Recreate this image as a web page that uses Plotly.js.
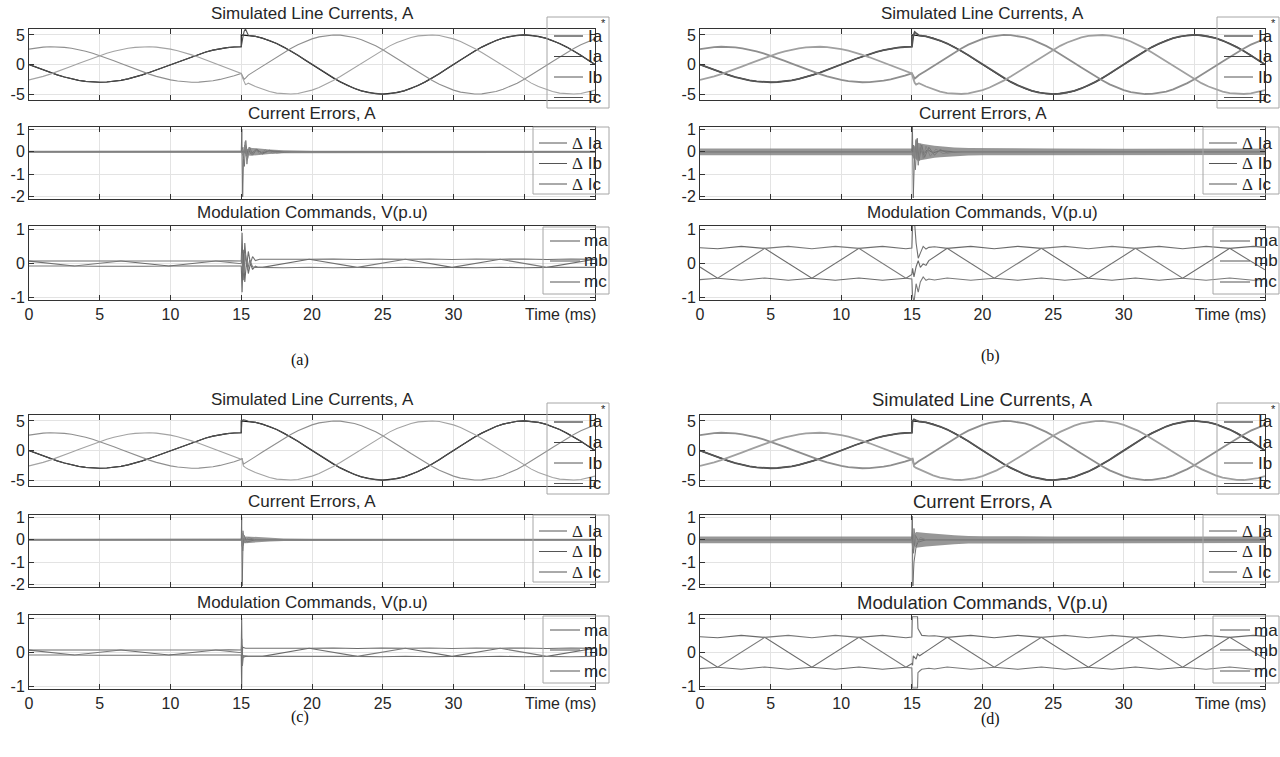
<!DOCTYPE html>
<html><head><meta charset="utf-8">
<script src="https://cdn.plot.ly/plotly-3.0.1.min.js"></script>
<style>html,body{margin:0;padding:0;background:#fff}#chart{width:1280px;height:757px}</style>
</head><body><div id="chart"></div><script>
// ---------------- DATA ----------------
const xTickVals = [0,5,10,15,20,25,30,35];
const xTickText = ['0','5','10','15','20','25','30',''];
const xAxisLabel = 'Time (ms)';
const curTickVals = [-5,0,5];  const curTickText = ['-5','0','5'];
const errTickVals = [-2,-1,0,1]; const errTickText = ['-2','-1','0','1'];
const modTickVals = [-1,0,1];  const modTickText = ['-1','0','1'];

// line currents before the step (0..15 ms, 0.5 ms spacing)
const tPre = [0,0.5,1,1.5,2,2.5,3,3.5,4,4.5,5,5.5,6,6.5,7,7.5,8,8.5,9,9.5,10,10.5,11,11.5,12,12.5,13,13.5,14,14.5,15];
const iaPre = [0,-0.47,-0.93,-1.36,-1.76,-2.12,-2.43,-2.67,-2.85,-2.96,-3.00,-2.96,-2.85,-2.67,-2.43,-2.12,-1.76,-1.36,-0.93,-0.47,0,0.47,0.93,1.36,1.76,2.12,2.43,2.67,2.85,2.96,3.00];
const ibPre = [2.60,2.80,2.93,3.00,2.98,2.90,2.74,2.52,2.23,1.89,1.50,1.08,0.62,0.16,-0.31,-0.78,-1.22,-1.63,-2.01,-2.33,-2.60,-2.80,-2.93,-3.00,-2.98,-2.90,-2.74,-2.52,-2.23,-1.89,-1.50];
const icPre = [-2.60,-2.33,-2.01,-1.63,-1.22,-0.78,-0.31,0.16,0.62,1.08,1.50,1.89,2.23,2.52,2.74,2.90,2.98,3.00,2.93,2.80,2.60,2.33,2.01,1.63,1.22,0.78,0.31,-0.16,-0.62,-1.08,-1.50];
// line currents after the step (15.5..40 ms)
const tPost = [15.5,16,16.5,17,17.5,18,18.5,19,19.5,20,20.5,21,21.5,22,22.5,23,23.5,24,24.5,25,25.5,26,26.5,27,27.5,28,28.5,29,29.5,30,30.5,31,31.5,32,32.5,33,33.5,34,34.5,35,35.5,36,36.5,37,37.5,38,38.5,39,39.5,40];
const iaPost = [4.94,4.76,4.46,4.05,3.54,2.94,2.27,1.55,0.78,0,-0.78,-1.55,-2.27,-2.94,-3.54,-4.05,-4.46,-4.76,-4.94,-5.00,-4.94,-4.76,-4.46,-4.05,-3.54,-2.94,-2.27,-1.55,-0.78,0,0.78,1.55,2.27,2.94,3.54,4.05,4.46,4.76,4.94,5.00,4.94,4.76,4.46,4.05,3.54,2.94,2.27,1.55,0.78,0];
const ibPost = [-1.79,-1.04,-0.26,0.52,1.29,2.03,2.72,3.35,3.89,4.33,4.67,4.89,4.99,4.97,4.83,4.57,4.19,3.72,3.15,2.50,1.79,1.04,0.26,-0.52,-1.29,-2.03,-2.72,-3.35,-3.89,-4.33,-4.67,-4.89,-4.99,-4.97,-4.83,-4.57,-4.19,-3.72,-3.15,-2.50,-1.79,-1.04,-0.26,0.52,1.29,2.03,2.72,3.35,3.89,4.33];
const icPost = [-3.15,-3.72,-4.19,-4.57,-4.83,-4.97,-4.99,-4.89,-4.67,-4.33,-3.89,-3.35,-2.72,-2.03,-1.29,-0.52,0.26,1.04,1.79,2.50,3.15,3.72,4.19,4.57,4.83,4.97,4.99,4.89,4.67,4.33,3.89,3.35,2.72,2.03,1.29,0.52,-0.26,-1.04,-1.79,-2.50,-3.15,-3.72,-4.19,-4.57,-4.83,-4.97,-4.99,-4.89,-4.67,-4.33];
const tRefStep = [15];
const iaRefStep = [5.0];
// measured-current transients (per panel)
const tCurTrA = [15.1,15.2,15.3,15.4]; const iaTrA = [4.4,5.6,6.0,5.4]; const ibTrA = [-2.0,-2.5,-2.3,-2.0]; const icTrA = [-2.3,-3.0,-3.4,-3.3];
const tCurTrB = [15.1,15.2,15.3,15.4]; const iaTrB = [4.8,5.5,5.3,5.1]; const ibTrB = [-1.9,-2.4,-2.2,-1.9]; const icTrB = [-2.4,-3.1,-3.4,-3.3];
const tCurTrC = [15.05,15.15,15.3,15.4]; const iaTrC = [5.1,5.2,5.1,5.0]; const ibTrC = [-1.3,-2.3,-2.1,-1.95]; const icTrC = [-1.3,-2.6,-2.9,-3.05];
const tCurTrD = [15.05,15.15,15.3,15.4]; const iaTrD = [5.0,5.25,5.1,5.0]; const ibTrD = [-1.4,-2.4,-2.1,-1.95]; const icTrD = [-1.4,-2.7,-2.95,-3.05];

// current errors: ripple envelope bands
const bandTA = [0,15,15.2,15.6,16,16.5,17,18,19,20,25,30,35,40];
const bandHiA = [0.04,0.04,0.06,0.18,0.15,0.12,0.10,0.07,0.05,0.045,0.04,0.045,0.045,0.045];
const bandLoA = [-0.04,-0.04,-0.06,-0.18,-0.15,-0.12,-0.10,-0.07,-0.05,-0.045,-0.04,-0.045,-0.045,-0.045];
const bandTB = [0,15,15.1,15.4,15.8,16.2,16.6,17,17.5,18,19,20,25,30,35,40];
const bandHiB = [0.15,0.15,0.20,0.40,0.35,0.30,0.27,0.24,0.21,0.19,0.17,0.16,0.14,0.13,0.14,0.14];
const bandLoB = [-0.15,-0.15,-0.20,-0.40,-0.35,-0.30,-0.27,-0.24,-0.21,-0.19,-0.17,-0.16,-0.14,-0.13,-0.14,-0.14];
const bandTC = [0,15,15.1,15.3,16,17,18,20,22,25,30,40];
const bandHiC = [0.04,0.04,0.06,0.15,0.12,0.08,0.06,0.05,0.045,0.04,0.04,0.04];
const bandLoC = [-0.04,-0.04,-0.06,-0.15,-0.12,-0.08,-0.06,-0.05,-0.045,-0.04,-0.04,-0.04];
const bandTD = [0,15,15.1,15.3,16,17,18,19,20,25,30,35,40];
const bandHiD = [0.15,0.15,0.20,0.35,0.30,0.24,0.20,0.17,0.16,0.15,0.14,0.14,0.14];
const bandLoD = [-0.15,-0.15,-0.20,-0.35,-0.30,-0.24,-0.20,-0.17,-0.16,-0.15,-0.14,-0.14,-0.14];
// current errors: transient lines
const tdIaA = [0,15,15.04,15.1,15.16,15.25,15.35,15.5,15.7,16,16.5,17,18,40]; const dIaA = [0,0,1.0,-2.0,-0.3,0.3,-0.2,0.1,-0.1,0.08,-0.05,0.04,0,0];
const tdIbA = [0,15,15.12,15.22,15.32,15.45,15.6,15.8,16.1,16.5,17,17.5,18.5,40]; const dIbA = [0,0,0.2,-0.65,0.5,-0.3,0.2,-0.15,0.12,-0.1,0.07,-0.05,0,0];
const tdIcA = [0,15,15.15,15.28,15.4,15.55,15.75,16,16.3,16.7,17.2,18,40]; const dIcA = [0,0,-0.2,0.45,-0.55,0.2,-0.15,0.12,-0.1,0.08,-0.05,0,0];
const tdIaB = [0,15,15.04,15.1,15.18,15.3,15.45,15.6,15.8,16.1,16.5,17,18,40]; const dIaB = [0,0,1.15,-2.05,-0.3,0.5,-0.3,0.2,-0.15,0.1,-0.05,0.05,0,0];
const tdIbB = [0,15,15.12,15.25,15.38,15.5,15.7,15.9,16.2,16.6,17,17.5,18.5,40]; const dIbB = [0,0,0.3,-0.8,0.6,-0.4,0.3,-0.25,0.2,-0.15,0.1,-0.05,0,0];
const tdIcB = [0,15,15.15,15.3,15.45,15.6,15.8,16.0,16.3,16.7,17.2,18,40]; const dIcB = [0,0,-0.3,0.55,-0.6,0.35,-0.3,0.25,-0.2,0.12,-0.08,0,0];
const tdIaC = [0,15,15.03,15.07,15.12,15.2,40]; const dIaC = [0,0,1.0,-2.05,-0.3,0,0];
const tdIbC = [0,15,15.05,15.1,15.2,15.4,16,40]; const dIbC = [0,0,0.3,-0.5,0.2,-0.1,0,0];
const tdIcC = [0,15,15.06,15.12,15.25,15.5,16,40]; const dIcC = [0,0,-0.3,0.4,-0.15,0.1,0,0];
const tdIaD = [0,15,15.03,15.07,15.15,15.3,15.5,40]; const dIaD = [0,0,1.05,-2.05,-1.0,-0.3,0,0];
const tdIbD = [0,15,15.05,15.12,15.25,15.5,16,40]; const dIbD = [0,0,0.5,-0.6,0.2,-0.1,0,0];
const tdIcD = [0,15,15.06,15.15,15.3,15.6,16,40]; const dIcD = [0,0,-0.4,0.5,-0.2,0.1,0,0];

// modulation commands, small (panels a, c)
const tmaSmPre = [0,3.2,4.9,6.5,8.2,9.9,13.2,14.1,15.0]; const maSmPre = [0.065,-0.08,-0.085,-0.075,-0.085,-0.08,0.07,0.075,0.07];
const tmbSmPre = [0,1.5,3.2,4.9,6.5,9.9,11.6,13.2,14.1,15.0]; const mbSmPre = [0.07,0.075,0.07,0.075,0.07,-0.08,-0.085,-0.075,-0.085,-0.08];
const tmcSmPre = [0,1.5,3.2,6.5,8.2,9.9,11.6,13.2,15.0]; const mcSmPre = [-0.08,-0.085,-0.08,0.07,0.075,0.07,0.075,0.07,-0.01];
const tmaSmPost = [16.3,18.0,19.8,23.2,24.9,26.6,28.3,29.9,33.3,35.0,36.6,38.3,40]; const maSmPost = [0.12,0.13,0.12,-0.12,-0.13,-0.115,-0.13,-0.12,0.12,0.13,0.115,0.13,0.12];
const tmbSmPost = [16.5,19.8,21.5,23.2,24.9,26.6,29.9,31.6,33.3,35.0,36.6,40]; const mbSmPost = [-0.12,0.12,0.13,0.115,0.13,0.12,-0.12,-0.13,-0.115,-0.13,-0.12,0.12];
const tmcSmPost = [16.3,18.0,19.8,21.5,23.2,26.6,28.3,29.9,31.6,33.3,36.6,38.3,40]; const mcSmPost = [-0.12,-0.13,-0.115,-0.13,-0.12,0.12,0.13,0.115,0.13,0.12,-0.12,-0.13,-0.12];
const tmaTrA = [15.06,15.14,15.25,15.38,15.5,15.65,15.8,16.0]; const maTrA = [0.9,-0.5,0.6,-0.1,0.35,0.0,0.2,0.08];
const tmbTrA = [15.06,15.14,15.25,15.38,15.5,15.65,15.8,16.0,16.2]; const mbTrA = [-0.85,0.4,-0.55,0.1,-0.3,0.0,-0.18,-0.08,-0.12];
const tmcTrA = [15.08,15.16,15.3,15.45,15.6,15.8,16.0]; const mcTrA = [0.3,-0.3,0.25,-0.2,0.1,-0.1,-0.12];
const tmaTrC = [15.03,15.06,15.1,15.3]; const maTrC = [1.0,-0.2,0.15,0.12];
const tmbTrC = [15.03,15.06,15.1,15.3]; const mbTrC = [-1.05,0.2,-0.15,-0.12];
const tmcTrC = [15.04,15.08,15.15,15.5]; const mcTrC = [0.4,-0.4,-0.1,-0.12];
// modulation commands, large (panels b, d)
const tmaLgPre = [0,1.25,2.92,4.58,6.25,7.92,11.25,12.92,14.58,15.0]; const maLgPre = [-0.11,-0.44,-0.5,-0.43,-0.5,-0.44,0.44,0.5,0.43,0.45];
const tmbLgPre = [0,1.25,2.92,4.58,7.92,9.58,11.25,12.92,14.58,15.0]; const mbLgPre = [0.46,0.43,0.5,0.44,-0.44,-0.5,-0.43,-0.5,-0.44,-0.33];
const tmcLgPre = [0,1.25,4.58,6.25,7.92,9.58,11.25,14.58,15.0]; const mcLgPre = [-0.48,-0.44,0.44,0.5,0.43,0.5,0.44,-0.44,-0.46];
const tmaLgPost = [16.6,17.5,20.83,22.5,24.17,25.83,27.5,30.83,32.5,34.17,35.83,37.5,40]; const maLgPost = [0.49,0.44,-0.44,-0.5,-0.43,-0.5,-0.44,0.44,0.5,0.43,0.5,0.44,-0.19];
const tmbLgPost = [17.5,19.17,20.83,22.5,24.17,27.5,29.17,30.83,32.5,34.17,37.5,39.17,40]; const mbLgPost = [0.44,0.5,0.43,0.5,0.44,-0.44,-0.5,-0.43,-0.5,-0.44,0.44,0.5,0.47];
const tmcLgPost = [16.6,17.5,19.17,20.83,24.17,25.83,27.5,29.17,30.83,34.17,35.83,37.5,39.17,40]; const mcLgPost = [-0.49,-0.43,-0.5,-0.44,0.44,0.5,0.43,0.5,0.44,-0.44,-0.5,-0.43,-0.5,-0.47];
const tmaTrB = [15.05,15.2,15.3,15.45,15.6,15.8,16.0,16.2]; const maTrB = [1.1,1.15,0.6,0.15,0.3,0.5,0.42,0.47];
const tmbTrB = [15.05,15.15,15.3,15.45,15.6,15.8,16.0,16.2]; const mbTrB = [-0.15,-0.4,-0.1,0.08,-0.12,-0.02,-0.06,0.08];
const tmcTrB = [15.05,15.15,15.3,15.45,15.6,15.8,16.0,16.2]; const mcTrB = [-0.95,-1.15,-0.6,-0.85,-0.55,-0.4,-0.5,-0.46];
const tmaTrD = [15.03,15.4,15.43,15.55,15.7,16.2]; const maTrD = [1.05,1.05,0.7,0.6,0.5,0.48];
const tmbTrD = [15.05,15.1,15.3,15.4,15.55,15.8,16.2]; const mbTrD = [-0.38,-0.1,-0.2,-0.05,-0.1,-0.02,0.08];
const tmcTrD = [15.03,15.4,15.43,15.55,15.7,16.2]; const mcTrD = [-1.05,-1.05,-0.6,-0.55,-0.5,-0.47];

const curTitle = 'Simulated Line Currents, A';
const errTitle = 'Current Errors, A';
const modTitle = 'Modulation Commands, V(p.u)';
const curNames = ['Ia','Ia','Ib','Ic'];
const DL = '<span style="font-family:Liberation Serif">\u0394</span>';
const errNames = [DL+' Ia', DL+' Ib', DL+' Ic'];
const modNames = ['ma','mb','mc'];
const panelLabels = ['(a)','(b)','(c)','(d)'];

// ---------------- BUILD ----------------
const W = 1280, H = 757;
const px = v => v / W, py = v => 1 - v / H;
const cat = (...a) => [].concat(...a);
const panels = [
  {x:[29,595], yo:[0,0,0], lab:[300,360], tfs:17, ripple:false,
   cur:[tCurTrA,iaTrA,ibTrA,icTrA], band:[bandTA,bandHiA,bandLoA],
   err:[[tdIaA,dIaA],[tdIbA,dIbA],[tdIcA,dIcA]],
   mod:[[cat(tmaSmPre,tmaTrA,tmaSmPost),cat(maSmPre,maTrA,maSmPost)],
        [cat(tmbSmPre,tmbTrA,tmbSmPost),cat(mbSmPre,mbTrA,mbSmPost)],
        [cat(tmcSmPre,tmcTrA,tmcSmPost),cat(mcSmPre,mcTrA,mcSmPost)]]},
  {x:[700,1265], yo:[0,0,0], lab:[990,356], tfs:17, ripple:true,
   cur:[tCurTrB,iaTrB,ibTrB,icTrB], band:[bandTB,bandHiB,bandLoB],
   err:[[tdIaB,dIaB],[tdIbB,dIbB],[tdIcB,dIcB]],
   mod:[[cat(tmaLgPre,tmaTrB,tmaLgPost),cat(maLgPre,maTrB,maLgPost)],
        [cat(tmbLgPre,tmbTrB,tmbLgPost),cat(mbLgPre,mbTrB,mbLgPost)],
        [cat(tmcLgPre,tmcTrB,tmcLgPost),cat(mcLgPre,mcTrB,mcLgPost)]]},
  {x:[29,595], yo:[386,388,389], lab:[300,717], tfs:17, ripple:false,
   cur:[tCurTrC,iaTrC,ibTrC,icTrC], band:[bandTC,bandHiC,bandLoC],
   err:[[tdIaC,dIaC],[tdIbC,dIbC],[tdIcC,dIcC]],
   mod:[[cat(tmaSmPre,tmaTrC,tmaSmPost),cat(maSmPre,maTrC,maSmPost)],
        [cat(tmbSmPre,tmbTrC,tmbSmPost),cat(mbSmPre,mbTrC,mbSmPost)],
        [cat(tmcSmPre,tmcTrC,tmcSmPost),cat(mcSmPre,mcTrC,mcSmPost)]]},
  {x:[700,1265], yo:[386,388,389], lab:[990,719], tfs:18.5, ripple:true,
   cur:[tCurTrD,iaTrD,ibTrD,icTrD], band:[bandTD,bandHiD,bandLoD],
   err:[[tdIaD,dIaD],[tdIbD,dIbD],[tdIcD,dIcD]],
   mod:[[cat(tmaLgPre,tmaTrD,tmaLgPost),cat(maLgPre,maTrD,maLgPost)],
        [cat(tmbLgPre,tmbTrD,tmbLgPost),cat(mbLgPre,mbTrD,mbLgPost)],
        [cat(tmcLgPre,tmcTrD,tmcLgPost),cat(mcLgPre,mcTrD,mcLgPost)]]}
];
// legend geometry relative to axes right edge (R) and top (T)
const rows = [
  {y:[29,100], range:[-6,6], tv:curTickVals, tt:curTickText, title:curTitle, tdy:16,
   leg:{box:[-48,-12,14,79], ent:[7,27.5,48,68.5], line:[-41,-12], tx:-9}},
  {y:[127,199], range:[-2.1,1.1], tv:errTickVals, tt:errTickText, title:errTitle, tdy:14,
   leg:{box:[-62,0,14,67], ent:[16,36.5,57], line:[-56,-28], tx:-25}},
  {y:[226,300], range:[-1.08,1.1], tv:modTickVals, tt:modTickText, title:modTitle, tdy:13,
   leg:{box:[-52,1,14,68], ent:[15,35,56], line:[-45,-15], tx:-13}}
];
const FONT = 'Liberation Sans, Arial, sans-serif';
const TXT = '#262626';
const traces = [];
const shapes = [];
const annotations = [];
const layout = {width:W, height:H, margin:{l:0,r:0,t:0,b:0}, paper_bgcolor:'#fff', plot_bgcolor:'rgba(0,0,0,0)',
  showlegend:false, hovermode:false, font:{family:FONT, color:TXT}, annotations, shapes};

function legendBox(R, T, g, items) {
  shapes.push({type:'rect', xref:'paper', yref:'paper', x0:px(R+g.box[0]), x1:px(R+g.box[2]),
    y0:py(T+g.box[1]), y1:py(T+g.box[3]), line:{color:'#a6a6a6', width:1}, fillcolor:'rgba(0,0,0,0)', layer:'above'});
  items.forEach((it, k) => {
    const yy = T + g.ent[k];
    shapes.push({type:'line', xref:'paper', yref:'paper', x0:px(R+g.line[0]), x1:px(R+g.line[1]), y0:py(yy), y1:py(yy),
      line:{color:it.color, width:1}, layer:'above'});
    annotations.push({xref:'paper', yref:'paper', x:px(R+g.tx), y:py(yy), xanchor:'left', yanchor:'middle',
      text:it.name, showarrow:false, font:{size:17, color:TXT, family:FONT}});
  });
}

panels.forEach((p, pi) => {
  const R = p.x[1];
  rows.forEach((r, ri) => {
    const n = pi*3 + ri + 1;
    const sfx = n === 1 ? '' : String(n);
    const xa = 'x' + sfx, ya = 'y' + sfx;
    const y0 = r.y[0] + p.yo[ri], y1 = r.y[1] + p.yo[ri];
    layout['xaxis' + sfx] = {domain:[px(p.x[0]), px(p.x[1])], anchor:ya, range:[0,40], tickvals:xTickVals,
      ticktext:xTickText, showticklabels: ri === 2, ticks:'inside', ticklen:5, tickcolor:'#333',
      showline:true, linecolor:'#333', linewidth:1, mirror:'ticks', showgrid:true, gridcolor:'#e3e3e3',
      zeroline:false, tickfont:{size:16, color:TXT, family:FONT}, fixedrange:true};
    layout['yaxis' + sfx] = {domain:[py(y1), py(y0)], anchor:xa, range:r.range, tickvals:r.tv, ticktext:r.tt,
      ticks:'inside', ticklen:5, tickcolor:'#333', showline:true, linecolor:'#333', linewidth:1, mirror:'ticks',
      showgrid:true, gridcolor:'#e3e3e3', zeroline:false, tickfont:{size:16, color:TXT, family:FONT}, fixedrange:true};
    annotations.push({xref:'paper', yref:'paper', x:px((p.x[0]+p.x[1])/2), y:py(y0 - r.tdy),
      xanchor:'center', yanchor:'middle', text:r.title, showarrow:false, font:{size:p.tfs, color:TXT, family:FONT}});
    const base = {type:'scatter', mode:'lines', xaxis:xa, yaxis:ya, hoverinfo:'skip'};
    const wM = p.ripple ? 1.8 : 1.1;
    if (ri === 0) {
      const [tt, ia, ib, ic] = p.cur;
      const cols = ['#111', p.ripple?'#555':'#505050', p.ripple?'#8e8e8e':'#8f8f8f', p.ripple?'#a0a0a0':'#a3a3a3'];
      traces.push({...base, name:curNames[0], x:cat(tPre,tRefStep,tPost), y:cat(iaPre,iaRefStep,iaPost), line:{color:cols[0], width:1.2}});
      traces.push({...base, name:curNames[1], x:cat(tPre,tt,tPost), y:cat(iaPre,ia,iaPost), line:{color:cols[1], width:wM}});
      traces.push({...base, name:curNames[2], x:cat(tPre,tt,tPost), y:cat(ibPre,ib,ibPost), line:{color:cols[2], width:wM}});
      traces.push({...base, name:curNames[3], x:cat(tPre,tt,tPost), y:cat(icPre,ic,icPost), line:{color:cols[3], width:wM}});
      legendBox(R, y0, r.leg, [{name:curNames[0], color:'#111'},{name:curNames[1], color:'#444'},
        {name:curNames[2], color:'#555'},{name:curNames[3], color:'#555'}]);
      annotations.push({xref:'paper', yref:'paper', x:px(R+8), y:py(y0-6), xanchor:'center', yanchor:'middle',
        text:'*', showarrow:false, font:{size:11, color:TXT, family:FONT}});
    } else if (ri === 1) {
      const [bt, bh, bl] = p.band;
      traces.push({...base, x:cat(bt, bt.slice().reverse()), y:cat(bh, bl.slice().reverse()),
        fill:'toself', fillcolor:'rgba(125,125,125,0.8)', line:{width:0}});
      const cols = ['#6e6e6e','#777','#858585'];
      p.err.forEach((e, k) => traces.push({...base, name:errNames[k], x:e[0], y:e[1], line:{color:cols[k], width:1}}));
      legendBox(R, y0, r.leg, errNames.map(nm => ({name:nm, color:'#555'})));
    } else {
      const cols = ['#707070','#6a6a6a','#7a7a7a'];
      p.mod.forEach((m, k) => traces.push({...base, name:modNames[k], x:m[0], y:m[1], line:{color:cols[k], width:1.1}}));
      legendBox(R, y0, r.leg, modNames.map(nm => ({name:nm, color:'#555'})));
      annotations.push({xref:'paper', yref:'paper', x:px(R+3), y:py(y1+14), xanchor:'right', yanchor:'middle',
        text:xAxisLabel, showarrow:false, font:{size:16, color:TXT, family:FONT}});
    }
  });
  annotations.push({xref:'paper', yref:'paper', x:px(p.lab[0]), y:py(p.lab[1]), xanchor:'center', yanchor:'middle',
    text:panelLabels[pi], showarrow:false, font:{size:16, color:'#111', family:'Liberation Serif, Times New Roman, serif'}});
});

Plotly.newPlot('chart', traces, layout, {staticPlot:true, displayModeBar:false});
</script></body></html>
